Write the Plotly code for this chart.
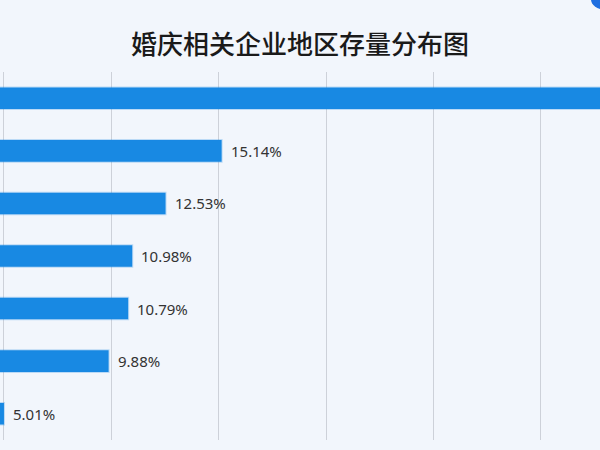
import plotly.graph_objects as go

# Data (region names are cropped off in the reference; placeholders kept hidden)
regions = ["地区A", "地区B", "地区C", "地区D", "地区E", "地区F", "地区G"]
shares = [35.67, 15.14, 12.53, 10.98, 10.79, 9.88, 5.01]
labels = ["35.67%", "15.14%", "12.53%", "10.98%", "10.79%", "9.88%", "5.01%"]
title_text = "婚庆相关企业地区存量分布图"

bar_color = "#1889e3"
bg = "#f2f6fc"

fig = go.Figure()
fig.add_trace(go.Bar(
    y=regions, x=shares, orientation="h",
    marker=dict(color=bar_color, line=dict(color="rgba(24,137,227,0.25)", width=2)),
    width=0.41, hoverinfo="skip",
))

for r, v, t in zip(regions, shares, labels):
    fig.add_annotation(x=v, y=r, text=t, showarrow=False, xanchor="left",
                       xshift=7, font=dict(family="Noto Sans, Noto Sans CJK SC", size=15, color="#333333"))

fig.add_shape(type="circle", xref="paper", yref="paper",
              x0=0.985, x1=1.03, y0=1.17, y1=1.225,
              fillcolor="#1f6fe0", line=dict(width=0), layer="above")

fig.update_layout(
    width=600, height=450,
    margin=dict(l=0, r=0, t=72, b=10),
    paper_bgcolor=bg, plot_bgcolor=bg,
    showlegend=False,
    title=dict(text=title_text, x=0.5, xanchor="center", y=0.9, yanchor="middle",
               yref="container",
               font=dict(family="Noto Sans CJK SC", size=26, color="#1a1a1a", weight=500)),
    xaxis=dict(range=[4.826, 32.75], dtick=5, tick0=0, showgrid=True,
               gridcolor="#cdd1d9", gridwidth=1, zeroline=False,
               showticklabels=False, showline=False, ticks=""),
    yaxis=dict(range=[6.5, -0.5], showticklabels=False, showgrid=False,
               zeroline=False, showline=False, ticks=""),
)

fig.write_html("out.html")
